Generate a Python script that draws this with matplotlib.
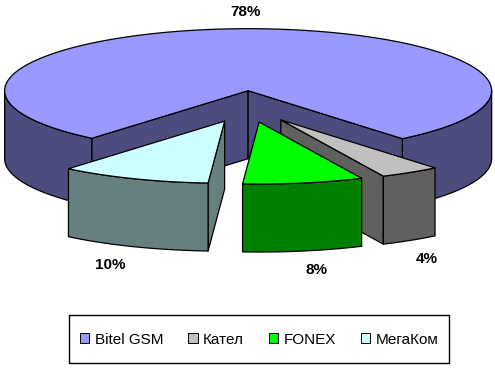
import numpy as np
import matplotlib
matplotlib.use("Agg")
import matplotlib.pyplot as plt
from matplotlib.patches import Patch, Rectangle

categories = ["Bitel GSM", "Кател", "FONEX", "МегаКом"]
values = [78, 4, 8, 10]
top_colors = ["#9999FF", "#C0C0C0", "#00FF00", "#CCFFFF"]
side_colors = ["#4C4C7F", "#606060", "#007F00", "#667F7F"]

# Projection of the pie, in pixels of the picture
CX, CY = 247.8, 106.5
A, B = 243.5, 62.0
DEPTH = 68.0
EXPLODE = 0.255
FIRST_ANGLE = 219.9
label_xy = [(246, 12), (427, 259), (317, 270), (110, 265)]

plt.rcParams["font.family"] = ["Liberation Sans", "DejaVu Sans"]
fig = plt.figure(figsize=(4.95, 3.69), dpi=100)
ax = fig.add_axes([0, 0, 1, 1])
ax.set_xlim(0, 495)
ax.set_ylim(369, 0)
ax.axis("off")


def rim(t, c):
    t = np.radians(t)
    return c[0] + A * np.sin(t), c[1] + B * np.cos(t)


def poly(xs, ys, color, z):
    ax.fill(xs, ys, facecolor=color, edgecolor="black", lw=0.9,
            joinstyle="round", zorder=z)


def wall(t0, t1, c, color, z):
    ts = np.linspace(t0, t1, 60)
    x, y = rim(ts, c)
    poly(np.r_[x, x[::-1]], np.r_[y, y[::-1] + DEPTH], color, z)


def cut(t, c, color, z):
    x, y = rim(t, c)
    poly([c[0], x, x, c[0]], [c[1], y, y + DEPTH, c[1] + DEPTH], color, z)


total = sum(values)
spans = [v / total * 360 for v in values]
clock = FIRST_ANGLE
order_z = [1, 10, 20, 15]
for i, span in enumerate(spans):
    t0 = 180 - clock
    t1 = t0 - span
    mid = np.radians((t0 + t1) / 2)
    c = (CX + A * EXPLODE * np.sin(mid), CY + B * EXPLODE * np.cos(mid))
    z = order_z[i]
    if i == 0:
        wall(t0, -90, c, side_colors[i], z)
        wall(t1 + 360, 90, c, side_colors[i], z)
        cut(t0, c, side_colors[i], z + 0.1)
        cut(t1 + 360, c, side_colors[i], z + 0.1)
    else:
        if i == 1:
            cut(t1, c, side_colors[i], z)
        if i == 3:
            cut(t0, c, side_colors[i], z)
        wall(t0, t1, c, side_colors[i], z + 0.1)
    ts = np.linspace(t0, t1, 200)
    x, y = rim(ts, c)
    poly(np.r_[c[0], x], np.r_[c[1], y], top_colors[i], z + 0.2)
    clock += span

for v, (x, y) in zip(values, label_xy):
    ax.text(x, y, f"{v}%", ha="center", va="center", fontsize=11,
            fontweight="bold", color="black", zorder=30)

ax.add_patch(Rectangle((69, 315), 380, 48, facecolor="white", edgecolor="black",
                       lw=1.0, zorder=40))
handles = [Patch(facecolor=tc, edgecolor="black", lw=0.7) for tc in top_colors]
leg = ax.legend(handles, categories, ncol=4, loc="center",
                bbox_to_anchor=(259.5, 339.5), bbox_transform=ax.transData,
                frameon=False, fontsize=11, handlelength=0.6, handleheight=0.6,
                handletextpad=0.36, columnspacing=1.64,
                borderpad=0, borderaxespad=0)
leg.set_zorder(41)

fig.savefig("out.png", dpi=100, facecolor="white")
